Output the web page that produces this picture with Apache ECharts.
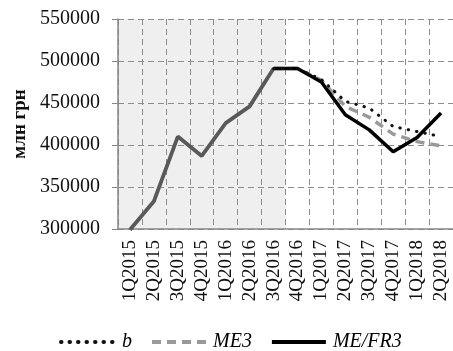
<!DOCTYPE html>
<html>
<head>
<meta charset="utf-8">
<script src="https://cdn.jsdelivr.net/npm/echarts@6/dist/echarts.min.js"></script>
<style>html,body{margin:0;padding:0;background:#fff;}#c{width:453px;height:351px;}</style>
</head>
<body>
<div id="c"></div>
<script>
const categories = ['1Q2015','2Q2015','3Q2015','4Q2015','1Q2016','2Q2016','3Q2016','4Q2016','1Q2017','2Q2017','3Q2017','4Q2017','1Q2018','2Q2018'];
const shadedCategories = ['1Q2015','2Q2015','3Q2015','4Q2015','1Q2016','2Q2016','3Q2016'];
const history = [299000, 333000, 410000, 387000, 426000, 446000, 491000, null, null, null, null, null, null, null];
const seriesB = [null, null, null, null, null, null, 491000, 491000, 478000, 452000, 444000, 422000, 416000, 410000];
const seriesME3 = [null, null, null, null, null, null, 491000, 491000, 477000, 446000, 433000, 413000, 404000, 399000];
const seriesMEFR3 = [null, null, null, null, null, null, 491000, 491000, 475000, 436000, 418000, 392000, 409000, 438000];
const yMin = 300000, yMax = 550000, yStep = 50000;
const yTickLabels = ['300000','350000','400000','450000','500000','550000'];

const font = 'Liberation Serif';
const chart = echarts.init(document.getElementById('c'), null, {renderer: 'canvas'});
chart.setOption({
  animation: false,
  backgroundColor: '#fff',
  grid: {left: 118, top: 19, right: -6, bottom: 122},
  legend: {
    data: ['b', 'ME3', 'ME/FR3'],
    left: 54, top: 327,
    itemWidth: 54, itemHeight: 14, itemGap: 18,
    itemStyle: {opacity: 0},
    lineStyle: {width: 4},
    textStyle: {fontFamily: font, fontStyle: 'italic', fontSize: 20, color: '#000', padding: [0, 0, 0, 2]}
  },
  xAxis: {
    type: 'category',
    data: categories,
    boundaryGap: true,
    z: 2,
    axisLine: {lineStyle: {color: '#868686', width: 1.5}},
    axisTick: {show: false},
    axisLabel: {rotate: 90, interval: 0, margin: 11, fontFamily: font, fontSize: 19, color: '#111'},
    splitLine: {show: true, interval: 0, lineStyle: {color: '#8c8c8c', type: [6, 4], width: 1}}
  },
  yAxis: {
    type: 'value',
    min: yMin, max: yMax, interval: yStep,
    z: 2,
    name: 'млн грн',
    nameLocation: 'middle',
    nameGap: 88,
    nameTextStyle: {fontFamily: font, fontWeight: 'bold', fontSize: 19, color: '#111'},
    axisLine: {show: true, lineStyle: {color: '#868686', width: 1.5}},
    axisTick: {show: true, length: 6, lineStyle: {color: '#868686'}},
    axisLabel: {margin: 18, fontFamily: font, fontSize: 20, color: '#111',
      formatter: v => yTickLabels[Math.round((v - yMin) / yStep)]},
    splitLine: {show: true, lineStyle: {color: '#8c8c8c', type: [6, 4], width: 1}}
  },
  series: [
    {
      name: 'shade', type: 'bar', silent: true, z: 0,
      data: categories.map(c => shadedCategories.includes(c) ? yMax : null),
      barWidth: '100%', barCategoryGap: 0,
      itemStyle: {color: '#efefef'}
    },
    {
      name: 'history', type: 'line', data: history, symbol: 'none', z: 3,
      lineStyle: {color: '#595959', width: 3.8}
    },
    {
      name: 'ME3', type: 'line', data: seriesME3, symbol: 'none', z: 4,
      itemStyle: {color: '#999999'},
      lineStyle: {color: '#999999', width: 3.5, type: [9, 6]}
    },
    {
      name: 'ME/FR3', type: 'line', data: seriesMEFR3, symbol: 'none', z: 5,
      itemStyle: {color: '#000'},
      lineStyle: {color: '#000', width: 3.5}
    },
    {
      name: 'b', type: 'line', data: seriesB, symbol: 'none', z: 6,
      itemStyle: {color: '#000'},
      lineStyle: {color: '#111', width: 3, type: [0.5, 8], cap: 'round'}
    }
  ]
});
</script>
</body>
</html>
